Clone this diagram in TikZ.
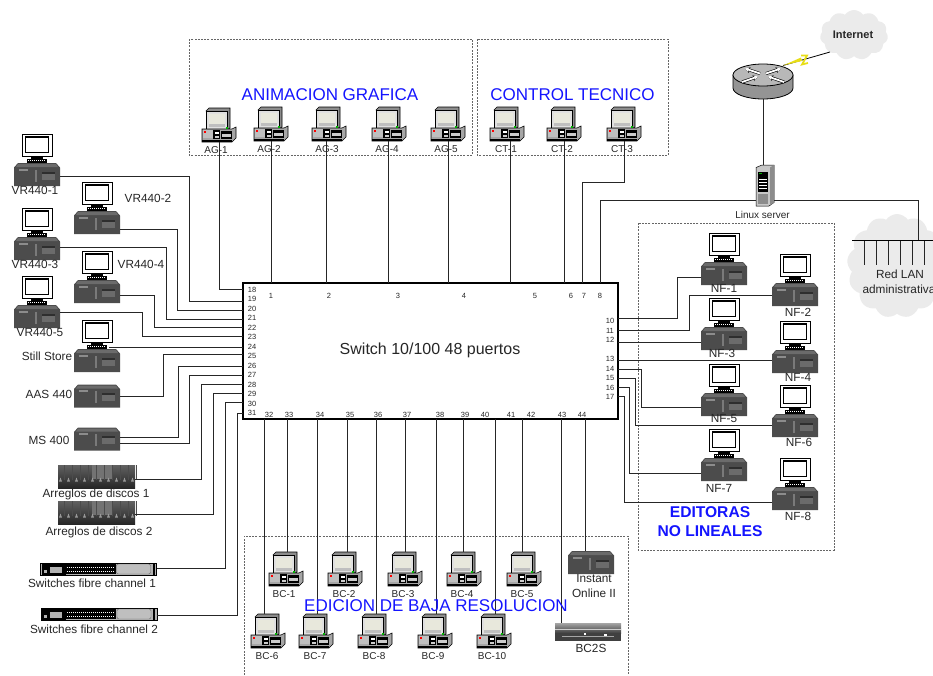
\documentclass[tikz,border=0pt]{standalone}
\usepackage{fontspec}
\setmainfont{Liberation Sans}
\usetikzlibrary{arrows.meta,shapes.symbols}
\definecolor{grouptitle}{RGB}{20,20,255}
\definecolor{screenpale}{RGB}{232,232,220}
\tikzset{
	txtbase/.style={inner sep=0pt,text height=.72em,text depth=0pt,text=black!85,align=center},
	smalltxt/.style={txtbase,font=\fontsize{10}{12}\selectfont},
	bigtxt/.style={txtbase,font=\fontsize{11.8}{14}\selectfont},
	porttxt/.style={txtbase,font=\fontsize{7.5}{9}\selectfont},
	grouptxt/.style={txtbase,text=grouptitle,font=\fontsize{17}{20}\selectfont},
	editxt/.style={txtbase,text=grouptitle,font=\bfseries\fontsize{15.6}{18}\selectfont},
	groupbox/.style={draw=black!60,dashed,dash pattern=on 2pt off 1.2pt,line width=.5pt},
	link/.style={draw=black!85,line width=.9pt},
	iconbox/.style={inner sep=0pt,minimum width=46pt,minimum height=52pt},
	deskbox/.style={inner sep=0pt,minimum width=46pt,minimum height=23pt},
	pcbox/.style={inner sep=0pt,minimum width=34pt,minimum height=34pt},
	pics/desktop/.style={code={
		\fill[black!70] (-19,-11.5) -- (19,-11.5) -- (23,-7) -- (23,11.5) -- (-23,11.5) -- (-23,-7) -- cycle;
		\fill[black!58] (-19,-10.5) -- (19,-10.5) -- (21,-7.5) -- (-21,-7.5) -- cycle;
		\fill[black!45] (-18,-6) rectangle (-9,-4);
		\fill[black!52] (-2,-5) rectangle (0,7);
		\fill[black!82] (5,-3) rectangle (18,-1);
		\fill[black!58] (5,-1) rectangle (18,5);
	}},
	pics/station/.style={code={
		\filldraw[fill=white,draw=black,line width=.7pt] (-15,-26) rectangle (15,-4);
		\filldraw[fill=white,draw=black,line width=1.8pt] (-11.5,-23) rectangle (11.5,-7.5);
		\fill[black] (-6,-4) rectangle (6,-1.5);
		\fill[black] (-10,-1.5) rectangle (10,3);
		\draw[white,line width=1pt,dash pattern=on 1pt off 1pt] (-9,.8) -- (9,.8);
		\pic at (0,14.5) {desktop};
	}},
	pics/pcicon/.style={code={
		\filldraw[fill=black!45,draw=black,line width=.6pt] (-13,-14) -- (-10,-17) -- (11,-17) -- (11,3) -- (8,5) -- cycle;
		\filldraw[fill=black!12,draw=black,line width=.6pt] (-13,-14) rectangle (8,4);
		\fill[screenpale] (-10.5,-11.5) rectangle (5.5,1.5);
		\fill[black!25] (-10.5,-1) rectangle (5.5,1.5);
		\filldraw[fill=black!35,draw=black,line width=.6pt] (-17,4) -- (13,4) -- (17,2) -- (17,13) -- (13,17) -- (-17,17) -- cycle;
		\fill[black!25] (-16,5) rectangle (-6,13);
		\fill[black] (-17,14.5) rectangle (13,17);
		\fill[red] (-15,6) rectangle (-13,8);
		\fill[black] (-6,5) rectangle (1,14);
		\fill[white] (-4.5,7) rectangle (-.5,9);
		\fill[black!20] (-4.5,10.5) rectangle (-.5,12.5);
		\fill[black] (2,6) rectangle (13,14);
		\fill[black!20] (3,9) rectangle (12,12);
		\fill[green!70!black] (7,1.8) rectangle (9,3.5);
	}},
	pics/diskarray/.style={code={
		\shade[top color=black!62,bottom color=black!85] (-38.5,-11.5) rectangle (38.5,11.5);
		\fill[black!55] (-5,-11.5) rectangle (15,2);
		\foreach \sx in {-36,-28,...,36} {
			\fill[black!40] (\sx-1.5,5) -- (\sx,1) -- (\sx+1.5,5) -- cycle;
			\draw[black!70,line width=.5pt] (\sx+4,-11.5) -- (\sx+4,3);
		}
	}},
	pics/fcswitch/.style={code={
		\filldraw[fill=black!30,draw=black,line width=1pt] (-58,-6) rectangle (58,6);
		\fill[black] (-57,-5.5) rectangle (-33,5.5);
		\fill[black!30] (-55,1) rectangle (-52,4);
		\fill[black!30] (-49,-2) rectangle (-37,4);
		\fill[black] (-33,-5) rectangle (17,5);
		\draw[white,line width=1pt,dash pattern=on 1pt off 1pt] (-32,-2) -- (16,-2);
		\draw[white,line width=1pt,dash pattern=on 1pt off 1pt] (-32,2) -- (16,2);
		\filldraw[fill=black!25,draw=black!60,rounded corners=2pt] (18,-5) rectangle (52,5);
		\fill[black] (54,-6) rectangle (56,6);
	}},
	pics/router/.style={code={
		\filldraw[fill=black!42,draw=black,line width=.8pt] (-30,-6.5) -- (-30,6.5) arc[x radius=30pt,y radius=11pt,start angle=180,end angle=360] -- (30,-6.5) -- cycle;
		\filldraw[fill=black!28,draw=black,line width=.8pt] (0,-6.5) ellipse[x radius=30pt,y radius=11pt];
		\foreach \ax/\ay/\bx/\by in {-3/-8/-18/-13, 3/-8/18/-13, -21/.5/-5/-5, 21/.5/5/-5} {
			\draw[black,line width=3pt,-{Stealth[length=5pt,width=6pt]}] (\ax,\ay) -- (\bx,\by);
			\draw[white,line width=1.8pt,-{Stealth[length=4pt,width=4.5pt]}] (\ax,\ay) -- (\bx,\by);
		}
	}},
	pics/linuxbox/.style={code={
		\filldraw[fill=black!22,draw=black,line width=.5pt] (-9,-18) -- (-3,-20.5) -- (9,-20.5) -- (9,17) -- (4,20.5) -- (-9,20.5) -- cycle;
		\fill[black!45] (5,-18) -- (9,-20.5) -- (9,17) -- (5,20) -- cycle;
		\fill[black] (-7,-14) rectangle (3,6);
		\fill[green!70!black] (-6,-13) rectangle (-3,-12);
		\fill[white] (-6,-7) rectangle (2,-6);
		\fill[white] (-6,-4) rectangle (2,-3);
		\fill[white] (-6,-1) rectangle (2,0);
		\fill[white] (-6,2) rectangle (2,3);
		\fill[black!45] (-7,8) rectangle (3,18);
	}},
	pics/blade/.style={code={
		\shade[top color=black!35,bottom color=black!75] (-33,-9) rectangle (33,1);
		\fill[black!75] (-33,1) rectangle (33,9);
		\fill[black!20] (-33,-3) rectangle (33,-2);
		\fill[white] (-4,1) rectangle (-2,3);
		\fill[white] (16,2) rectangle (19,4);
		\fill[black!35] (-26,4) rectangle (26,5);
	}}
}
\begin{document}
\begin{tikzpicture}[x=1pt,y=-1pt]
	\useasboundingbox (0,0) rectangle (933,675);
	% grupos
	\draw[groupbox] (189,39) rectangle (472,155);
	\draw[groupbox] (477,39) rectangle (668,155);
	\draw[groupbox] (638,223) rectangle (834,550);
	\draw[groupbox] (244,675) |- (628,536) -- (628,675);
	% switch
	\node[draw=black,line width=1.5pt,inner sep=0pt,minimum width=375pt,minimum height=136pt] (sw) at (430.5,351) {};
	\node[txtbase,font=\fontsize{16}{19}\selectfont] (swname) at (430,351) {Switch 10/100 48 puertos};
	% puertos
	\coordinate (p1) at (271,283); \node[porttxt] (n1) at (271,295) {1};
	\coordinate (p2) at (326,283); \node[porttxt] (n2) at (329,295) {2};
	\coordinate (p3) at (388.5,283); \node[porttxt] (n3) at (398,295) {3};
	\coordinate (p4) at (448,283); \node[porttxt] (n4) at (464,295) {4};
	\coordinate (p5) at (510,283); \node[porttxt] (n5) at (535,295) {5};
	\coordinate (p6) at (564,283); \node[porttxt] (n6) at (571,295) {6};
	\coordinate (p7) at (582,283); \node[porttxt] (n7) at (584,295) {7};
	\coordinate (p8) at (600,283); \node[porttxt] (n8) at (600,295) {8};
	\coordinate (p10) at (618,318.5); \node[porttxt] (n10) at (610,320) {10};
	\coordinate (p11) at (618,330); \node[porttxt] (n11) at (610,330) {11};
	\coordinate (p12) at (618,342); \node[porttxt] (n12) at (610,339) {12};
	\coordinate (p13) at (618,360); \node[porttxt] (n13) at (610,358) {13};
	\coordinate (p14) at (618,369); \node[porttxt] (n14) at (610,368) {14};
	\coordinate (p15) at (618,378); \node[porttxt] (n15) at (610,377) {15};
	\coordinate (p16) at (618,387); \node[porttxt] (n16) at (610,387) {16};
	\coordinate (p17) at (618,396); \node[porttxt] (n17) at (610,396) {17};
	\coordinate (p18) at (243,289); \node[porttxt] (n18) at (252,289) {18};
	\coordinate (p19) at (243,301); \node[porttxt] (n19) at (252,298) {19};
	\coordinate (p20) at (243,310); \node[porttxt] (n20) at (252,308) {20};
	\coordinate (p21) at (243,319); \node[porttxt] (n21) at (252,317) {21};
	\coordinate (p22) at (243,327); \node[porttxt] (n22) at (252,327) {22};
	\coordinate (p23) at (243,336); \node[porttxt] (n23) at (252,336) {23};
	\coordinate (p24) at (243,347); \node[porttxt] (n24) at (252,346) {24};
	\coordinate (p25) at (243,354); \node[porttxt] (n25) at (252,355) {25};
	\coordinate (p26) at (243,366); \node[porttxt] (n26) at (252,365) {26};
	\coordinate (p27) at (243,375); \node[porttxt] (n27) at (252,374) {27};
	\coordinate (p28) at (243,384); \node[porttxt] (n28) at (252,384) {28};
	\coordinate (p29) at (243,393); \node[porttxt] (n29) at (252,393) {29};
	\coordinate (p30) at (243,402); \node[porttxt] (n30) at (252,403) {30};
	\coordinate (p31) at (243,413); \node[porttxt] (n31) at (252,412) {31};
	\coordinate (p32) at (264,419); \node[porttxt] (n32) at (269,414) {32};
	\coordinate (p33) at (287,419); \node[porttxt] (n33) at (289,414) {33};
	\coordinate (p34) at (317,419); \node[porttxt] (n34) at (320,414) {34};
	\coordinate (p35) at (347,419); \node[porttxt] (n35) at (350,414) {35};
	\coordinate (p36) at (376,419); \node[porttxt] (n36) at (378,414) {36};
	\coordinate (p37) at (405,419); \node[porttxt] (n37) at (407,414) {37};
	\coordinate (p38) at (436,419); \node[porttxt] (n38) at (440,414) {38};
	\coordinate (p39) at (463,419); \node[porttxt] (n39) at (465,414) {39};
	\coordinate (p40) at (495,419); \node[porttxt] (n40) at (485,414) {40};
	\node[porttxt] (n41) at (511,414) {41};
	\coordinate (p42) at (522,419); \node[porttxt] (n42) at (531,414) {42};
	\coordinate (p43) at (561,419); \node[porttxt] (n43) at (562,414) {43};
	\coordinate (p44) at (585,419); \node[porttxt] (n44) at (582,414) {44};
	% animacion grafica
	\node[pcbox] (ag1) at (219,125) {}; \pic at (ag1) {pcicon};
	\node[pcbox] (ag2) at (271,124) {}; \pic at (ag2) {pcicon};
	\node[pcbox] (ag3) at (329,124) {}; \pic at (ag3) {pcicon};
	\node[pcbox] (ag4) at (389,124) {}; \pic at (ag4) {pcicon};
	\node[pcbox] (ag5) at (448,124) {}; \pic at (ag5) {pcicon};
	\node[smalltxt] (lag1) at (216,150) {AG-1};
	\node[smalltxt] (lag2) at (269,149) {AG-2};
	\node[smalltxt] (lag3) at (327,149) {AG-3};
	\node[smalltxt] (lag4) at (387,149) {AG-4};
	\node[smalltxt] (lag5) at (446,149) {AG-5};
	% control tecnico
	\node[pcbox] (ct1) at (507,124) {}; \pic at (ct1) {pcicon};
	\node[pcbox] (ct2) at (564,124) {}; \pic at (ct2) {pcicon};
	\node[pcbox] (ct3) at (624,124) {}; \pic at (ct3) {pcicon};
	\node[smalltxt] (lct1) at (506,149) {CT-1};
	\node[smalltxt] (lct2) at (562,149) {CT-2};
	\node[smalltxt] (lct3) at (622,149) {CT-3};
	% izquierda
	\node[iconbox] (vr1) at (37,160) {}; \pic at (vr1) {station};
	\node[iconbox] (vr2) at (97,208) {}; \pic at (vr2) {station};
	\node[iconbox] (vr3) at (37,234) {}; \pic at (vr3) {station};
	\node[iconbox] (vr4) at (97,277) {}; \pic at (vr4) {station};
	\node[iconbox] (vr5) at (37,302) {}; \pic at (vr5) {station};
	\node[iconbox] (still) at (97,346) {}; \pic at (still) {station};
	\node[deskbox] (aas) at (97,396) {}; \pic at (aas) {desktop};
	\node[deskbox] (ms) at (97,439) {}; \pic at (ms) {desktop};
	\node[inner sep=0pt,minimum width=77pt,minimum height=23pt] (disk1) at (96.5,476.5) {}; \pic at (disk1) {diskarray};
	\node[inner sep=0pt,minimum width=77pt,minimum height=23pt] (disk2) at (96.5,512.5) {}; \pic at (disk2) {diskarray};
	\node[inner sep=0pt,minimum width=116pt,minimum height=12pt] (fc1) at (98.5,569) {}; \pic at (fc1) {fcswitch};
	\node[inner sep=0pt,minimum width=116pt,minimum height=12pt] (fc2) at (99,614) {}; \pic at (fc2) {fcswitch};
	\node[bigtxt] (lvr1) at (35,191) {VR440-1};
	\node[bigtxt] (lvr2) at (148,199) {VR440-2};
	\node[bigtxt] (lvr3) at (35,265) {VR440-3};
	\node[bigtxt] (lvr4) at (141,265) {VR440-4};
	\node[bigtxt] (lvr5) at (40,333) {VR440-5};
	\node[bigtxt] (lstill) at (47,357) {Still Store};
	\node[bigtxt] (laas) at (49,395) {AAS 440};
	\node[bigtxt] (lms) at (49,441) {MS 400};
	\node[bigtxt] (ldisk1) at (96,494) {Arreglos de discos 1};
	\node[bigtxt] (ldisk2) at (99,532) {Arreglos de discos 2};
	\node[bigtxt] (lfc1) at (92,584) {Switches fibre channel 1};
	\node[bigtxt] (lfc2) at (94,630) {Switches fibre channel 2};
	% editoras
	\node[iconbox] (nf1) at (724,259) {}; \pic at (nf1) {station};
	\node[iconbox] (nf2) at (795,280) {}; \pic at (nf2) {station};
	\node[iconbox] (nf3) at (724,324) {}; \pic at (nf3) {station};
	\node[iconbox] (nf4) at (795,347) {}; \pic at (nf4) {station};
	\node[iconbox] (nf5) at (724,390) {}; \pic at (nf5) {station};
	\node[iconbox] (nf6) at (795,411) {}; \pic at (nf6) {station};
	\node[iconbox] (nf7) at (724,455) {}; \pic at (nf7) {station};
	\node[iconbox] (nf8) at (795,484) {}; \pic at (nf8) {station};
	\node[bigtxt] (lnf1) at (724,289) {NF-1};
	\node[bigtxt] (lnf2) at (798,313) {NF-2};
	\node[bigtxt] (lnf3) at (722,354) {NF-3};
	\node[bigtxt] (lnf4) at (798,378) {NF-4};
	\node[bigtxt] (lnf5) at (724,419) {NF-5};
	\node[bigtxt] (lnf6) at (799,443) {NF-6};
	\node[bigtxt] (lnf7) at (719,489) {NF-7};
	\node[bigtxt] (lnf8) at (798,517) {NF-8};
	% baja resolucion
	\node[pcbox] (bc1) at (286,569) {}; \pic at (bc1) {pcicon};
	\node[pcbox] (bc2) at (345,569) {}; \pic at (bc2) {pcicon};
	\node[pcbox] (bc3) at (405,569) {}; \pic at (bc3) {pcicon};
	\node[pcbox] (bc4) at (464,569) {}; \pic at (bc4) {pcicon};
	\node[pcbox] (bc5) at (524,569) {}; \pic at (bc5) {pcicon};
	\node[pcbox] (bc6) at (268,631) {}; \pic at (bc6) {pcicon};
	\node[pcbox] (bc7) at (316,631) {}; \pic at (bc7) {pcicon};
	\node[pcbox] (bc8) at (375,631) {}; \pic at (bc8) {pcicon};
	\node[pcbox] (bc9) at (435,631) {}; \pic at (bc9) {pcicon};
	\node[pcbox] (bc10) at (494,631) {}; \pic at (bc10) {pcicon};
	\node[smalltxt] (lbc1) at (284,594) {BC-1};
	\node[smalltxt] (lbc2) at (344,594) {BC-2};
	\node[smalltxt] (lbc3) at (403,594) {BC-3};
	\node[smalltxt] (lbc4) at (462,594) {BC-4};
	\node[smalltxt] (lbc5) at (522,594) {BC-5};
	\node[smalltxt] (lbc6) at (267,656) {BC-6};
	\node[smalltxt] (lbc7) at (315,656) {BC-7};
	\node[smalltxt] (lbc8) at (374,656) {BC-8};
	\node[smalltxt] (lbc9) at (433,656) {BC-9};
	\node[smalltxt] (lbc10) at (492,656) {BC-10};
	\node[deskbox] (iol) at (591,562.5) {}; \pic at (iol) {desktop};
	\node[bigtxt] (liol) at (594,579) {Instant};
	\node[bigtxt] (liol2) at (594,594) {Online II};
	\node[inner sep=0pt,minimum width=66pt,minimum height=18pt] (bc2s) at (588,632) {}; \pic at (bc2s) {blade};
	\node[bigtxt] (lbc2s) at (591,649) {BC2S};
	% internet
	\node[cloud,cloud puffs=11,cloud puff arc=110,aspect=1.3,fill=black!8,inner sep=0pt,minimum width=68pt,minimum height=50pt] (inet) at (854,35) {};
	\node[bigtxt,font=\bfseries\fontsize{11}{13}\selectfont] (linet) at (853,35) {Internet};
	\node[inner sep=0pt,minimum width=60pt,minimum height=35pt] (router) at (763,81.5) {}; \pic at (router) {router};
	\node[inner sep=0pt,minimum width=18pt,minimum height=41pt] (server) at (765,185.5) {}; \pic at (server) {linuxbox};
	\node[smalltxt] (lserver) at (762.5,214.5) {Linux server};
	\node[cloud,cloud puffs=13,cloud puff arc=110,aspect=1,fill=black!8,inner sep=0pt,minimum width=100pt,minimum height=104pt] (lan) at (897,266) {};
	\node[bigtxt] (llan) at (900,275) {Red LAN};
	\node[bigtxt] (llan2) at (899,290) {administrativa};
	% enlaces
	\coordinate (zigA) at (783,65.5);
	\coordinate (zigB) at (830,52);
	\draw[black,line width=.8pt] (zigA) -- (zigB);
	\fill[yellow!90!black] (783,65.5) -- (801,57.5) -- (802,61) -- cycle;
	\draw[yellow!90!black,line width=1.8pt] (801,55.5) -- (807,55.5) -- (802,64.5) -- (808,63);
	\draw[link] (router.south) -- (server.north -| router.south);
	\draw[link] (p8) |- (server.west |- 0,200);
	\draw[link] (server.east |- 0,200) -| (918,240.5);
	\coordinate (busL) at (852,240.5);
	\coordinate (busR) at (933,240.5);
	\draw[black,line width=1.3pt] (busL) -- (busR);
	\draw[link] (864,240.5) -- (864,265);
	\draw[link] (876,240.5) -- (876,265);
	\draw[link] (888,240.5) -- (888,265);
	\draw[link] (900,240.5) -- (900,265);
	\draw[link] (912,240.5) -- (912,265);
	\draw[link] (924,240.5) -- (924,265);
	\draw[link] (ag1.south) |- (p18);
	\draw[link] (ag2.south -| p1) -- (p1);
	\draw[link] (ag3.south -| p2) -- (p2);
	\draw[link] (ag4.south -| p3) -- (p3);
	\draw[link] (ag5.south -| p4) -- (p4);
	\draw[link] (ct1.south -| p5) -- (p5);
	\draw[link] (ct2.south -| p6) -- (p6);
	\draw[link] (ct3.south) |- (p7 |- 0,182) -- (p7);
	\draw[link] (vr1.east |- 0,176) -| (189,301) -- (p19);
	\draw[link] (vr2.east |- 0,229) -| (177,310) -- (p20);
	\draw[link] (vr3.east |- 0,247) -| (166,319) -- (p21);
	\draw[link] (vr4.east |- 0,295) -| (154,327) -- (p22);
	\draw[link] (vr5.east |- 0,312) -| (142,336) -- (p23);
	\draw[link] (still.center) ++(12,1) -- (p24);
	\draw[link] (aas.east) -| (163,354) -- (p25);
	\draw[link] (ms.east |- 0,437) -| (178,366) -- (p26);
	\draw[link] (ms.east |- 0,443) -| (189.5,375) -- (p27);
	\draw[link] (disk1.east |- 0,479) -| (201,384) -- (p28);
	\draw[link] (disk2.east |- 0,514) -| (213,393) -- (p29);
	\draw[link] (fc1.east |- 0,568) -| (225,402) -- (p30);
	\draw[link] (fc2.east |- 0,615) -| (237,413) -- (p31);
	\draw[link] (nf1.west |- 0,277) -| (677,318.5) -- (p10);
	\draw[link] (nf2.west |- 0,295) -| (689,330) -- (p11);
	\draw[link] (nf3.west |- 0,342) -- (p12);
	\draw[link] (nf4.west |- 0,360) -- (p13);
	\draw[link] (nf5.west |- 0,407) -| (641,369) -- (p14);
	\draw[link] (nf6.west |- 0,425) -| (635,378) -- (p15);
	\draw[link] (nf7.west |- 0,473) -| (629,387) -- (p16);
	\draw[link] (nf8.west |- 0,502) -| (624,396) -- (p17);
	\draw[link] (p32) -- (bc6.north -| p32);
	\draw[link] (p33) -- (bc1.north -| p33);
	\draw[link] (p34) -- (bc7.north -| p34);
	\draw[link] (p35) -- (bc2.north -| p35);
	\draw[link] (p36) -- (bc8.north -| p36);
	\draw[link] (p37) -- (bc3.north -| p37);
	\draw[link] (p38) -- (bc9.north -| p38);
	\draw[link] (p39) -- (bc4.north -| p39);
	\draw[link] (p40) -- (bc10.north -| p40);
	\draw[link] (p42) -- (bc5.north -| p42);
	\draw[link] (p43) -- (bc2s.north -| p43);
	\draw[link] (p44) -- (iol.north -| p44);
	% titulos
	\node[grouptxt] (tag) at (330,96.5) {ANIMACION GRAFICA};
	\node[grouptxt] (tct) at (572.5,96.5) {CONTROL TECNICO};
	\node[grouptxt] (tbc) at (436,608) {EDICION DE BAJA RESOLUCION};
	\node[editxt] (ted) at (710,514) {EDITORAS};
	\node[editxt] (tnl) at (710,533) {NO LINEALES};
\end{tikzpicture}
\end{document}
